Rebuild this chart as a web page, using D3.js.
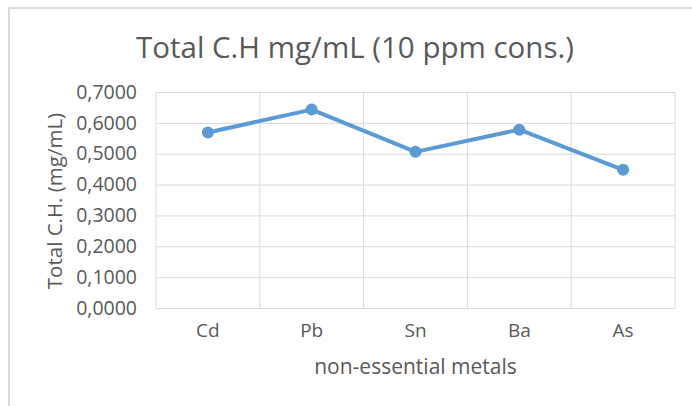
<!DOCTYPE html>
<html>
<head>
<meta charset="utf-8">
<script src="https://cdn.jsdelivr.net/npm/d3@7"></script>
<style>
  body { margin: 0; background: #fff; }
  text { font-family: "Open Sans", sans-serif; fill: #595959; }
</style>
</head>
<body>
<script>
// non-essential metals, total C.H. in mg/mL at 10 ppm
var metals = ['Cd', 'Pb', 'Sn', 'Ba', 'As'];
var totalCH = [0.569, 0.643, 0.506, 0.578, 0.448];
var yTicks = [0, 0.1, 0.2, 0.3, 0.4, 0.5, 0.6, 0.7];

var w = 692;
var h = 406;
var plot = {left: 156, right: 675, top: 92, bottom: 308};

var svg = d3.select('body')
            .append('svg')
            .attr('width', w)
            .attr('height', h);

// chart frame (only left and top edges show in the crop)
svg.append('path')
   .attr('d', 'M9,' + h + 'V8H' + w)
   .attr('fill', 'none')
   .attr('stroke', '#d9d9d9')
   .attr('stroke-width', 2);

var xScale = d3.scaleBand()
               .domain(metals)
               .range([plot.left, plot.right]);
var yScale = d3.scaleLinear()
               .domain([0, 0.7])
               .range([plot.bottom, plot.top]);

var fmt = function(d) { return d3.format('.4f')(d).replace('.', ','); };

// horizontal gridlines + y labels
var yAxis = svg.append('g')
   .attr('transform', 'translate(' + plot.left + ',0)')
   .call(d3.axisLeft(yScale)
           .tickValues(yTicks)
           .tickFormat(fmt)
           .tickSize(-(plot.right - plot.left))
           .tickPadding(19));
yAxis.select('.domain').remove();
yAxis.selectAll('line').attr('stroke', '#d9d9d9');
yAxis.selectAll('text')
     .attr('font-size', '19.5px')
     .attr('fill', '#595959')
     .attr('font-family', '"Open Sans", sans-serif');

// vertical gridlines at band edges
var edges = metals.map(function(m) { return xScale(m); }).concat([plot.right]);
svg.append('g')
   .selectAll('line')
   .data(edges)
   .enter()
   .append('line')
   .attr('x1', function(d) { return d; })
   .attr('x2', function(d) { return d; })
   .attr('y1', plot.top)
   .attr('y2', plot.bottom)
   .attr('stroke', '#d9d9d9');

// category labels
var xAxis = svg.append('g')
   .attr('transform', 'translate(0,' + plot.bottom + ')')
   .call(d3.axisBottom(xScale).tickSize(0).tickPadding(16));
xAxis.select('.domain').remove();
xAxis.selectAll('text')
     .attr('font-size', '19px')
     .attr('fill', '#595959')
     .attr('font-family', '"Open Sans", sans-serif');

var cx = function(d, i) { return xScale(metals[i]) + xScale.bandwidth() / 2; };

var line = d3.line()
             .x(function(d, i) { return cx(d, i); })
             .y(function(d) { return yScale(d); });

svg.append('path')
   .datum(totalCH)
   .attr('d', line)
   .attr('fill', 'none')
   .attr('stroke', '#5b9bd5')
   .attr('stroke-width', 4)
   .attr('stroke-linejoin', 'round');

svg.selectAll('circle')
   .data(totalCH)
   .enter()
   .append('circle')
   .attr('cx', cx)
   .attr('cy', function(d) { return yScale(d); })
   .attr('r', 6)
   .attr('fill', '#5b9bd5');

// titles
svg.append('text')
   .attr('x', 355)
   .attr('y', 58)
   .attr('text-anchor', 'middle')
   .attr('font-size', '29.5px')
   .text('Total C.H mg/mL (10 ppm cons.)');

svg.append('text')
   .attr('transform', 'translate(62,201) rotate(-90)')
   .attr('text-anchor', 'middle')
   .attr('font-size', '20.5px')
   .text('Total C.H. (mg/mL)');

svg.append('text')
   .attr('x', (plot.left + plot.right) / 2)
   .attr('y', 374)
   .attr('text-anchor', 'middle')
   .attr('font-size', '21px')
   .text('non-essential metals');
</script>
</body>
</html>
